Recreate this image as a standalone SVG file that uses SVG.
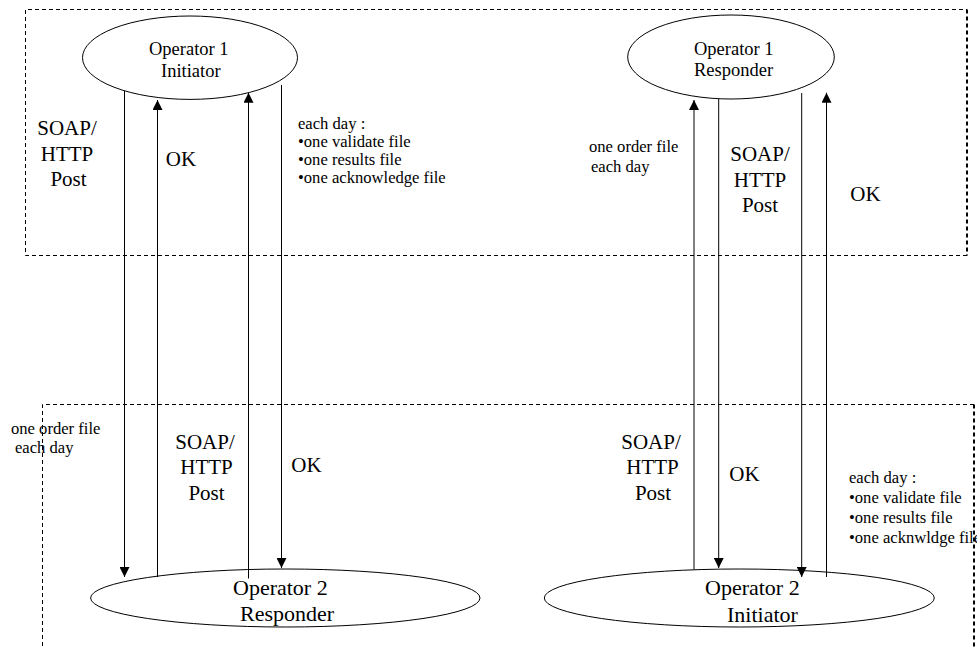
<svg xmlns="http://www.w3.org/2000/svg" width="977" height="648" viewBox="0 0 977 648" font-family="'Liberation Serif', 'DejaVu Serif', serif">
  <style>
    .zone { fill: none; stroke: #000; stroke-width: 1; stroke-dasharray: 4 3; }
    .zone-edge { fill: none; stroke: #000; stroke-width: 2; stroke-dasharray: 4 3; }
    .node { fill: #fff; stroke: #000; stroke-width: 1; }
    .link { fill: none; stroke: #000; stroke-width: 1; }
    text { font-family: 'Liberation Serif', 'DejaVu Serif', serif; fill: #000; }
    .lbl-node-s { font-size: 18.5px; }
    .lbl-node-l { font-size: 22px; }
    .lbl-big { font-size: 21px; text-anchor: middle; }
    .lbl-small { font-size: 16.6px; }
  </style>
  <defs>
    <marker id="head" viewBox="0 0 10 10" refX="10" refY="5" markerWidth="10" markerHeight="10" markerUnits="userSpaceOnUse" orient="auto">
      <path d="M0,0 L10,5 L0,10 Z" fill="#000"/>
    </marker>
  </defs>
  <rect width="977" height="648" fill="#fff"/>

  <!-- dashed zones -->
  <g id="zones">
    <path class="zone" d="M967,255.5 H25.5 V9.5 H967"/>
    <path class="zone-edge" d="M967,9.5 V255.5"/>
    <path class="zone" d="M42.5,660 V404.5 H974"/>
    <path class="zone-edge" d="M974,404.5 V660"/>
  </g>

  <!-- nodes -->
  <g id="op1-initiator">
    <ellipse class="node" cx="190" cy="57.7" rx="107.5" ry="41.7"/>
    <text class="lbl-node-s" x="149" y="55">Operator 1</text>
    <text class="lbl-node-s" x="161" y="76.5">Initiator</text>
  </g>
  <g id="op1-responder">
    <ellipse class="node" cx="731" cy="57" rx="103.3" ry="42"/>
    <text class="lbl-node-s" x="694" y="55">Operator 1</text>
    <text class="lbl-node-s" x="694" y="76">Responder</text>
  </g>
  <g id="op2-responder">
    <ellipse class="node" cx="285.3" cy="598" rx="194.7" ry="29"/>
    <text class="lbl-node-l" x="233" y="595">Operator 2</text>
    <text class="lbl-node-l" x="240" y="621">Responder</text>
  </g>
  <g id="op2-initiator">
    <ellipse class="node" cx="739.3" cy="598" rx="195" ry="29"/>
    <text class="lbl-node-l" x="705" y="595">Operator 2</text>
    <text class="lbl-node-l" x="727" y="621.5">Initiator</text>
  </g>

  <!-- connectors -->
  <g id="connectors">
    <line class="link" x1="124.5" y1="91" x2="124.5" y2="577" marker-end="url(#head)"/>
    <line class="link" x1="157.5" y1="577" x2="157.5" y2="100" marker-end="url(#head)"/>
    <line class="link" x1="248.5" y1="578.5" x2="248.5" y2="92.7" marker-end="url(#head)"/>
    <line class="link" x1="281.5" y1="85" x2="281.5" y2="568" marker-end="url(#head)"/>

    <line class="link" x1="694" y1="569.5" x2="694" y2="100" marker-end="url(#head)"/>
    <line class="link" x1="718.7" y1="99" x2="718.7" y2="568" marker-end="url(#head)"/>
    <line class="link" x1="801.7" y1="93" x2="801.7" y2="577" marker-end="url(#head)"/>
    <line class="link" x1="826.5" y1="577" x2="826.5" y2="92.7" marker-end="url(#head)"/>
  </g>

  <!-- connector labels -->
  <g id="labels">
    <text class="lbl-big" x="67" y="135">SOAP/</text>
    <text class="lbl-big" x="67" y="160.5">HTTP</text>
    <text class="lbl-big" x="68.5" y="186">Post</text>
    <text class="lbl-big" x="181" y="165.5">OK</text>

    <text class="lbl-small" x="298" y="128.5">each day :</text>
    <text class="lbl-small" x="298" y="146.8">•one validate file</text>
    <text class="lbl-small" x="298" y="165">•one results file</text>
    <text class="lbl-small" x="298" y="183.3">•one acknowledge file</text>

    <text class="lbl-small" x="589" y="152">one order file</text>
    <text class="lbl-small" x="591" y="172">each day</text>
    <text class="lbl-big" x="760" y="160.5">SOAP/</text>
    <text class="lbl-big" x="760" y="186.5">HTTP</text>
    <text class="lbl-big" x="760" y="211.5">Post</text>
    <text class="lbl-big" x="865.5" y="200.5">OK</text>

    <text class="lbl-small" x="11" y="434">one order file</text>
    <text class="lbl-small" x="15" y="452.7">each day</text>
    <text class="lbl-big" x="205" y="448.5">SOAP/</text>
    <text class="lbl-big" x="206.5" y="474.3">HTTP</text>
    <text class="lbl-big" x="206.5" y="500">Post</text>
    <text class="lbl-big" x="306.5" y="472">OK</text>

    <text class="lbl-big" x="651" y="448.5">SOAP/</text>
    <text class="lbl-big" x="652.5" y="474.3">HTTP</text>
    <text class="lbl-big" x="653" y="500">Post</text>
    <text class="lbl-big" x="744.5" y="480.5">OK</text>

    <text class="lbl-small" x="849" y="482.7">each day :</text>
    <text class="lbl-small" x="849" y="502.7">•one validate file</text>
    <text class="lbl-small" x="849" y="522.7">•one results file</text>
    <text class="lbl-small" x="849" y="542.7">•one acknwldge file</text>
  </g>
</svg>
